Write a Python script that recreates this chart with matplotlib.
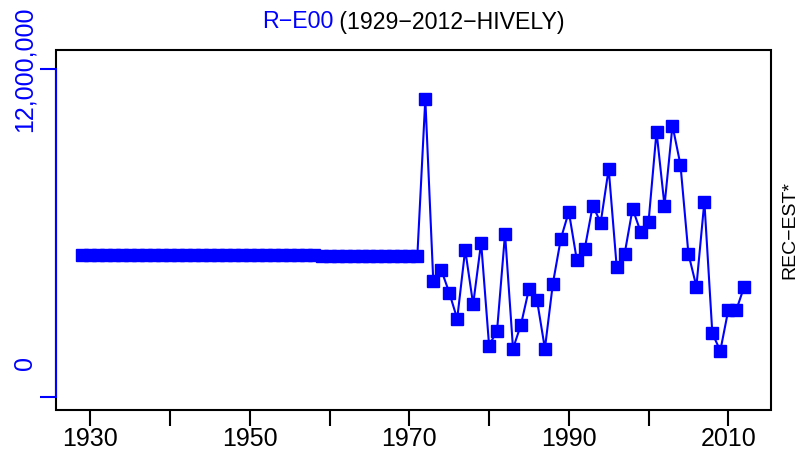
import matplotlib
matplotlib.use("Agg")
import matplotlib.pyplot as plt
from matplotlib.patches import Rectangle

plt.rcParams['font.family'] = ['Liberation Sans', 'DejaVu Sans']

years = list(range(1929, 2013))
values_m = [
    # 1929-1958
    5.20, 5.20, 5.20, 5.20, 5.20, 5.20, 5.20, 5.20, 5.20, 5.20,
    5.20, 5.20, 5.20, 5.20, 5.20, 5.20, 5.20, 5.20, 5.20, 5.20,
    5.20, 5.20, 5.20, 5.20, 5.20, 5.20, 5.20, 5.20, 5.20, 5.20,
    # 1959-1971
    5.16, 5.16, 5.16, 5.16, 5.16, 5.16, 5.16, 5.16, 5.16, 5.16,
    5.16, 5.16, 5.16,
    # 1972-2012
    10.90, 4.24, 4.65, 3.82, 2.86, 5.39, 3.39, 5.65, 1.88, 2.43,
    5.97, 1.77, 2.65, 3.95, 3.56, 1.77, 4.15, 5.79, 6.78, 5.02,
    5.43, 7.00, 6.38, 8.35, 4.77, 5.24, 6.89, 6.05, 6.41, 9.71,
    7.00, 9.93, 8.50, 5.24, 4.04, 7.15, 2.33, 1.69, 3.18, 3.18,
    4.04,
]
values = [v * 1e6 for v in values_m]

xticks = [1930, 1940, 1950, 1960, 1970, 1980, 1990, 2000, 2010]
xticklabels = ['1930', '', '1950', '', '1970', '', '1990', '', '2010']
yticks = [0, 12e6]
ytick_labels = ['0', '12,000,000']
title_blue = 'R\u2212E00'
title_black = ' (1929\u22122012\u2212HIVELY)'
right_label = 'REC\u2212EST*'

W, H = 808, 459
fig = plt.figure(figsize=(W / 100, H / 100), dpi=100)
ax = fig.add_axes([56 / W, 1 - 410 / H, (770.7 - 56) / W, 360 / H])

ax.plot(years, values, color='#0000ff', lw=1.5, marker='s', ms=8.6,
        mec='#0000ff', mfc='#0000ff', zorder=3)

ax.set_xlim(1925.68, 2015.32)
ax.set_ylim(-0.4756e6, 12.695e6)

# box
for s in ['top', 'right', 'bottom']:
    ax.spines[s].set_visible(False)
ax.add_patch(Rectangle((0, 0), 1, 1, transform=ax.transAxes, fill=False,
                       ec='black', lw=1.5, clip_on=False, zorder=2.4))
ax.spines['left'].set_color('#0000ff')
ax.spines['left'].set_linewidth(1.5)
ax.spines['left'].set_bounds(yticks[0], yticks[-1])
ax.spines['left'].set_zorder(2.6)

ax.set_xticks(xticks)
ax.set_xticklabels(xticklabels, fontsize=18)
ax.tick_params(axis='x', length=11.5, width=1.5, pad=1, color='black')

ax.set_yticks(yticks)
ax.set_yticklabels(['', ''])
ax.tick_params(axis='y', length=11.5, width=1.5, color='#0000ff')

# y tick labels (the "0" label sits above its tick as in the reference)
label_y = [1.244e6, 12e6]
for lab, yv in zip(ytick_labels, label_y):
    ax.annotate(lab, xy=(0, yv), xycoords=('axes fraction', 'data'),
                xytext=(-22.3, 0), textcoords='offset points',
                rotation=90, ha='center', va='center', fontsize=18,
                color='#0000ff')

fig.text(790 / W, 1 - 230 / H, right_label, rotation=90, ha='center',
         va='center', fontsize=14, color='black')

# two-colour title centred over the box
fig.canvas.draw()
r = fig.canvas.get_renderer()
ty = 1 - 22 / H
t1 = fig.text(0, ty, title_blue, fontsize=16.7, color='#0000ff', va='center')
t2 = fig.text(0, ty, title_black, fontsize=16.7, color='black', va='center')
w1 = t1.get_window_extent(r).width
w2 = t2.get_window_extent(r).width
cx = (56 + 770.7) / 2
x0 = cx - (w1 + w2) / 2
t1.set_x(x0 / W)
t2.set_x((x0 + w1) / W)

fig.savefig('out.png', dpi=100)
